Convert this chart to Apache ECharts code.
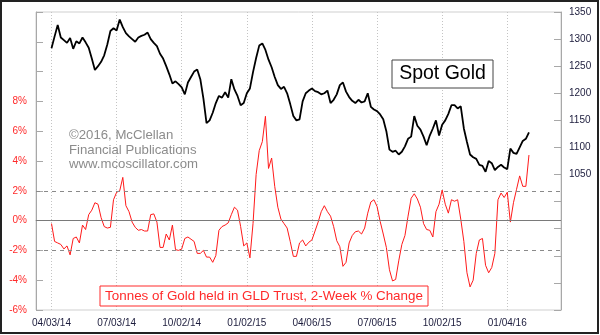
<!DOCTYPE html>
<html>
<head>
<meta charset="utf-8">
<script src="https://cdn.jsdelivr.net/npm/echarts@6/dist/echarts.min.js"></script>
<style>
  html, body { margin: 0; padding: 0; background: #fff; }
  #chart { width: 600px; height: 335px; }
</style>
</head>
<body>
<div id="chart"></div>
<script>
// Quarter marks on the trading-day axis (day 0 = 04/03/14)
const tickLabels = ['04/03/14', '07/03/14', '10/02/14', '01/02/15', '04/06/15', '07/06/15', '10/02/15', '01/04/16'];
const tickDays = [0, 63, 126, 189, 252, 315, 378, 441];
const firstDay = -15;
const lastDay = 493;
const sampleStep = 3; // trading days between samples

// Spot gold, $/oz, one value every 3 trading days
const goldPrice = [
  1283, 1305, 1326, 1303, 1298, 1293, 1302, 1282, 1296, 1292,
  1303, 1294, 1284, 1264, 1243, 1250, 1258, 1270, 1290, 1315,
  1320, 1316, 1336, 1322, 1311, 1305, 1300, 1295, 1303, 1306,
  1308, 1312, 1300, 1293, 1287, 1273, 1264, 1250, 1235, 1218,
  1222, 1217, 1211, 1198, 1220, 1230, 1240, 1244, 1226, 1190,
  1145, 1150, 1164, 1182, 1195, 1192, 1202, 1192, 1226, 1207,
  1195, 1178, 1182, 1200, 1209, 1239, 1265, 1288, 1292, 1280,
  1262, 1248, 1230, 1215, 1208, 1212, 1200, 1180, 1158, 1150,
  1152, 1185, 1200, 1205, 1209, 1204, 1202, 1198, 1200, 1205,
  1182, 1188, 1198, 1215, 1220, 1203, 1193, 1186, 1182, 1188,
  1183, 1185, 1200, 1175, 1170, 1167, 1161, 1152, 1130, 1096,
  1092, 1094, 1087, 1092, 1102, 1116, 1120, 1158, 1140, 1133,
  1120, 1104, 1122, 1135, 1150, 1122, 1142, 1150, 1162, 1178,
  1178, 1172, 1176, 1135, 1110, 1087, 1082, 1079, 1068, 1066,
  1055, 1075, 1071, 1058, 1064, 1068, 1063, 1060, 1098, 1090,
  1088, 1100, 1112, 1116, 1128
];

// Tonnes of gold held in GLD, 2-week % change, same sampling
const gldChange = [
  -0.2, -1.4, -1.5, -1.6, -1.9, -1.7, -2.3, -1.2, -1.1, -1.5,
  -0.3, -0.6, 0.4, 0.7, 1.2, 1.1, 0.2, -0.4, -0.5, -0.45,
  1.4, 1.9, 2.0, 2.9, 1.0, 0.6, -0.1, -0.45, -0.65, -0.6,
  -0.7, -0.7, 0.4, 0.45, -0.1, -1.8, -1.8, -0.9, -1.3, -0.3,
  -1.95, -2.0, -1.9, -1.2, -1.1, -1.25, -1.4, -2.2, -2.2, -2.0,
  -2.45, -2.45, -2.8, -2.35, -0.65, -0.4, -0.3, -0.15, 0.4, 0.9,
  0.7, -0.4, -1.7, -1.5, -2.5, -0.2, 3.1, 4.7, 5.3, 7.0,
  3.5, 4.2, 2.3, 0.9, 0.1, -0.2, -0.5, -1.4, -2.4, -2.4,
  -1.5, -1.3, -1.7, -1.45, -1.3, -0.7, -0.1, 0.6, 1.0, 0.6,
  0.3, -0.4, -1.35, -1.75, -3.07, -2.8, -1.5, -1.0, -0.75, -0.7,
  -0.9, -0.5, 0.5, 1.25, 1.4, 0.95, -0.05, -0.9, -1.8, -3.3,
  -4.05, -3.95, -2.7, -1.6, -1.0, 0.3, 1.5, 1.8, 1.45, 0.9,
  -0.2, -0.6, -0.65, -1.1, 0.6, 1.1, 2.05, 1.1, 0.5, 1.4,
  1.3, 1.4, 0.1, -1.4, -3.5, -4.45, -4.0, -2.2, -1.3, -1.2,
  -3.0, -3.5, -3.15, -2.2, 1.4, 1.85, 1.55, 1.9, -0.1, 1.2,
  2.1, 3.0, 2.3, 2.3, 4.4
];

const FONT = '"Liberation Sans", Arial, sans-serif';
const NAVY = '#1c1c3c';
const RED = '#ff2a2a';

const days = [];
for (let d = firstDay; d <= lastDay; d++) days.push(String(d));

const toPoints = arr => arr.map((v, i) => [i * sampleStep - firstDay, v]);
const isQuarter = (idx, val) => tickDays.indexOf(Number(val)) >= 0;

const chart = echarts.init(document.getElementById('chart'), null, { renderer: 'canvas' });

chart.setOption({
  animation: false,
  backgroundColor: '#fff',
  grid: {
    left: 36, right: 39, top: 12, bottom: 25,
    show: true, borderColor: '#cfcfcf', borderWidth: 1, backgroundColor: '#fff'
  },
  xAxis: {
    type: 'category',
    data: days,
    boundaryGap: false,
    axisLine: { show: true, lineStyle: { color: '#a8a8a8', width: 1 } },
    axisTick: { show: false },
    axisLabel: {
      interval: isQuarter,
      formatter: v => tickLabels[tickDays.indexOf(Number(v))] || '',
      color: NAVY, fontFamily: FONT, fontSize: 10, margin: 8
    },
    splitLine: {
      show: true,
      interval: isQuarter,
      lineStyle: { color: '#c4c4c4', type: [1, 2], width: 1 }
    }
  },
  yAxis: [
    {
      type: 'value',
      position: 'left',
      min: -6, max: 14, interval: 2,
      axisLine: { show: true, lineStyle: { color: '#a8a8a8', width: 1 } },
      axisTick: { show: true, inside: true, length: 7, lineStyle: { color: '#a8a8a8' } },
      axisLabel: {
        formatter: v => (v <= 8 ? v + '%' : ''),
        color: RED, fontFamily: FONT, fontSize: 10, margin: 9
      },
      splitLine: { show: false }
    },
    {
      type: 'value',
      position: 'right',
      min: 800, max: 1350, interval: 50,
      axisLine: { show: true, lineStyle: { color: '#a8a8a8', width: 1 } },
      axisTick: { show: true, inside: true, length: 7, lineStyle: { color: '#a8a8a8' } },
      axisLabel: {
        formatter: v => (v >= 1050 ? String(v) : ''),
        color: NAVY, fontFamily: FONT, fontSize: 10, margin: 8
      },
      splitLine: { show: false }
    }
  ],
  series: [
    {
      name: 'GLD 2-Week % Change',
      type: 'line',
      yAxisIndex: 0,
      data: toPoints(gldChange),
      showSymbol: false,
      lineStyle: { color: '#ff1a1a', width: 1 },
      z: 3,
      markLine: {
        silent: true,
        symbol: ['none', 'none'],
        label: { show: false },
        data: [
          { yAxis: 0, lineStyle: { color: '#7a7a7a', type: 'solid', width: 1 } },
          { yAxis: 2, lineStyle: { color: '#8a8a8a', type: [4, 4], width: 1 } },
          { yAxis: -2, lineStyle: { color: '#8a8a8a', type: [4, 4], width: 1 } }
        ]
      }
    },
    {
      name: 'Spot Gold',
      type: 'line',
      yAxisIndex: 1,
      data: toPoints(goldPrice),
      showSymbol: false,
      lineStyle: { color: '#000', width: 1.8 },
      z: 4
    }
  ],
  graphic: [
    {
      type: 'rect', z: 10,
      shape: { x: 392, y: 60, width: 101, height: 28 },
      style: { fill: '#fff', stroke: '#444', lineWidth: 1 }
    },
    {
      type: 'text', z: 11,
      style: {
        x: 442.5, y: 74, text: 'Spot Gold', align: 'center', verticalAlign: 'middle',
        font: '19.5px ' + FONT, fill: '#000'
      }
    },
    {
      type: 'text', z: 11,
      style: {
        x: 69, y: 128,
        text: '©2016, McClellan\nFinancial Publications\nwww.mcoscillator.com',
        font: '13.2px ' + FONT, fill: '#8c8c8c', lineHeight: 14.6
      }
    },
    {
      type: 'rect', z: 10,
      shape: { x: 100, y: 286, width: 328, height: 20 },
      style: { fill: '#fff', stroke: RED, lineWidth: 1 }
    },
    {
      type: 'text', z: 11,
      style: {
        x: 264, y: 296.5,
        text: 'Tonnes of Gold held in GLD Trust, 2-Week % Change',
        align: 'center', verticalAlign: 'middle',
        font: '13.4px ' + FONT, fill: RED
      }
    },
    {
      type: 'rect', z: 12, silent: true,
      shape: { x: 1, y: 1, width: 597, height: 332 },
      style: { fill: 'none', stroke: '#222', lineWidth: 2 }
    }
  ]
});
</script>
</body>
</html>
